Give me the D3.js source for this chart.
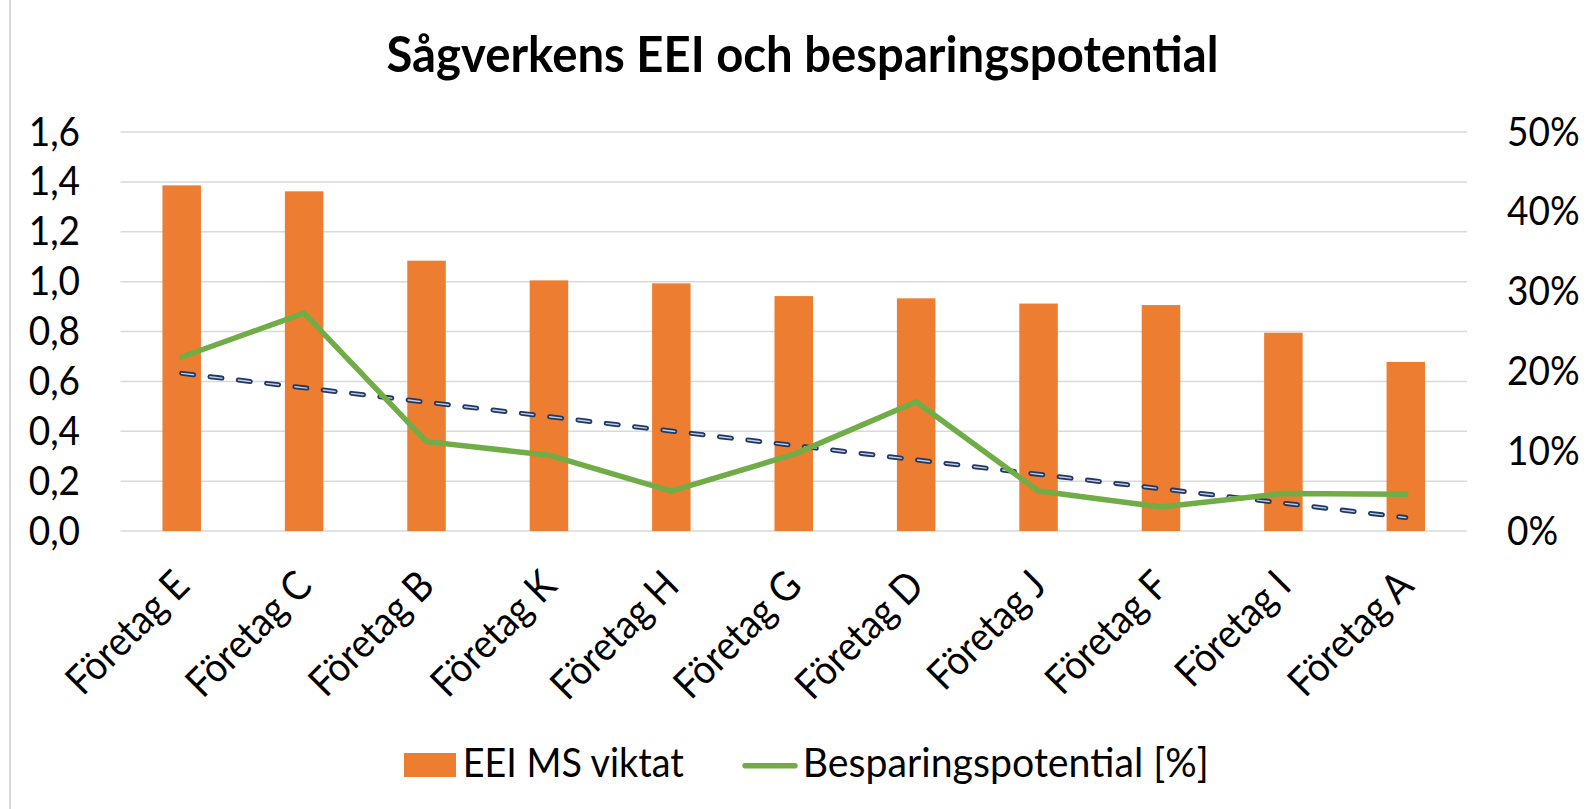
<!DOCTYPE html>
<html>
<head>
<meta charset="utf-8">
<script src="https://cdn.jsdelivr.net/npm/d3@7"></script>
<style>
  body { margin: 0; background: #fff; }
  svg { display: block; }
</style>
</head>
<body>
<svg id="chart" width="1594" height="809"></svg>
<script>
// data
const companies = ['Företag E', 'Företag C', 'Företag B', 'Företag K', 'Företag H', 'Företag G',
  'Företag D', 'Företag J', 'Företag F', 'Företag I', 'Företag A'];
const eeiValues = [1.386, 1.362, 1.084, 1.005, 0.993, 0.942, 0.933, 0.912, 0.906, 0.795, 0.678];
const savingsValues = [0.218, 0.273, 0.112, 0.095, 0.050, 0.096, 0.162, 0.050, 0.030, 0.047, 0.046];
const leftTicks = [0, 0.2, 0.4, 0.6, 0.8, 1.0, 1.2, 1.4, 1.6];
const rightTicks = [0, 0.1, 0.2, 0.3, 0.4, 0.5];
const seriesNames = ['EEI MS viktat', 'Besparingspotential [%]'];
const title = 'Sågverkens EEI och besparingspotential';

const svg = d3.select('#chart');
const FONT = 'Lato, "Open Sans", sans-serif';

/**
 * SIZES
 */
const plotLeft = 120.5;
const plotRight = 1467;
const plotTop = 132;
const plotBottom = 531;

// fit a font size so that a string gets the width it has in the picture
function fitSize(str, width, weight) {
  const t = svg.append('text').attr('font-family', FONT).attr('font-weight', weight)
    .attr('font-size', 100).text(str);
  const w = t.node().getComputedTextLength();
  t.remove();
  return 100 * width / w;
}
// Lato is wider than the original font, so go a bit larger and squeeze where the width matters
const labelSize = fitSize(seriesNames[0], 221, 'normal') * 1.08;
const titleSize = fitSize(title, 832, 'bold') * 1.06;
const squeeze = 0.91;

/**
 * SCALES
 */
const x = d3.scaleBand().domain(companies).range([plotLeft, plotRight]).padding(0);
const yLeft = d3.scaleLinear().domain([0, 1.6]).range([plotBottom, plotTop]);
const yRight = d3.scaleLinear().domain([0, 0.5]).range([plotBottom, plotTop]);
const cx = (d) => x(d) + x.bandwidth() / 2;

const sv = d3.formatLocale({ decimal: ',', thousands: ' ', grouping: [3], currency: ['', ' kr'] });

// chart area border (only the left edge is inside the picture)
svg.append('line')
  .attr('x1', 10).attr('x2', 10).attr('y1', 0).attr('y2', 809)
  .attr('stroke', '#d9d9d9').attr('stroke-width', 2);

/**
 * TITLE
 */
svg.append('text')
  .attr('x', 386.5).attr('y', 72)
  .attr('font-family', FONT).attr('font-weight', 'bold')
  .attr('font-size', titleSize)
  .attr('textLength', 832).attr('lengthAdjust', 'spacingAndGlyphs')
  .attr('fill', '#000')
  .text(title);

/**
 * GRIDLINES
 */
svg.append('g')
  .selectAll('line')
  .data(leftTicks)
  .join('line')
  .attr('x1', plotLeft).attr('x2', plotRight)
  .attr('y1', (d) => yLeft(d)).attr('y2', (d) => yLeft(d))
  .attr('stroke', '#d9d9d9').attr('stroke-width', 1.5);

/**
 * AXES
 */
function styleAxis(g) {
  g.select('.domain').remove();
  g.selectAll('.tick line').remove();
  g.attr('font-family', FONT).attr('font-size', labelSize);
  g.selectAll('text').attr('fill', '#000');
}
function narrow(g) {
  g.selectAll('text').each(function () {
    const w = this.getComputedTextLength();
    d3.select(this).attr('textLength', w * squeeze).attr('lengthAdjust', 'spacingAndGlyphs');
  });
}

svg.append('g')
  .attr('transform', `translate(${plotLeft},0)`)
  .call(d3.axisLeft(yLeft).tickValues(leftTicks).tickSize(0).tickPadding(40.5).tickFormat(sv.format('.1f')))
  .call(styleAxis)
  .call(narrow);

svg.append('g')
  .attr('transform', `translate(${plotRight},0)`)
  .call(d3.axisRight(yRight).tickValues(rightTicks).tickSize(0).tickPadding(40).tickFormat(d3.format('.0%')))
  .call(styleAxis)
  .call(narrow);

const gX = svg.append('g')
  .attr('transform', `translate(0,${plotBottom})`)
  .call(d3.axisBottom(x).tickSize(0))
  .call(styleAxis)
  .call(narrow);

gX.selectAll('.tick text')
  .attr('text-anchor', 'end')
  .attr('dy', 0)
  .attr('y', 0)
  .attr('transform', 'translate(10,57) rotate(-45)');

/**
 * BARS
 */
const barWidth = 38.5;
svg.append('g')
  .selectAll('rect')
  .data(companies)
  .join('rect')
  .attr('x', (d) => cx(d) - barWidth / 2)
  .attr('width', barWidth)
  .attr('y', (d, i) => yLeft(eeiValues[i]))
  .attr('height', (d, i) => yLeft(0) - yLeft(eeiValues[i]))
  .attr('fill', '#ed7d31');

/**
 * LINE + LINEAR TREND (least squares on the savings series)
 */
const pts = companies.map((c, i) => ({ c, i: i + 1, v: savingsValues[i] }));
const n = pts.length;
const mx = d3.mean(pts, (d) => d.i);
const my = d3.mean(pts, (d) => d.v);
const slope = d3.sum(pts, (d) => (d.i - mx) * (d.v - my)) / d3.sum(pts, (d) => (d.i - mx) ** 2);
const trend = [pts[0], pts[n - 1]].map((d) => ({ c: d.c, v: my + slope * (d.i - mx) }));

const line = d3.line()
  .x((d) => cx(d.c))
  .y((d) => yRight(d.v));

svg.append('path')
  .attr('d', line(trend))
  .attr('fill', 'none')
  .attr('stroke', '#1f3864')
  .attr('stroke-width', 5)
  .attr('stroke-linecap', 'round')
  .attr('stroke-dasharray', '12 16.5');

svg.append('path')
  .attr('d', line(trend))
  .attr('fill', 'none')
  .attr('stroke', '#c3cde4')
  .attr('stroke-width', 1.4)
  .attr('stroke-linecap', 'round')
  .attr('stroke-dasharray', '12 16.5');

svg.append('path')
  .attr('d', line(pts))
  .attr('fill', 'none')
  .attr('stroke', '#70ad47')
  .attr('stroke-width', 5.5)
  .attr('stroke-linejoin', 'round')
  .attr('stroke-linecap', 'round');

/**
 * LEGEND
 */
const legend = svg.append('g').attr('font-family', FONT).attr('font-size', labelSize).attr('fill', '#000');
legend.append('rect')
  .attr('x', 404).attr('y', 753).attr('width', 52).attr('height', 24)
  .attr('fill', '#ed7d31');
legend.append('text').attr('x', 462.7).attr('y', 777)
  .attr('textLength', 221).attr('lengthAdjust', 'spacingAndGlyphs')
  .text(seriesNames[0]);
legend.append('line')
  .attr('x1', 745).attr('x2', 795).attr('y1', 765.7).attr('y2', 765.7)
  .attr('stroke', '#70ad47').attr('stroke-width', 5.5).attr('stroke-linecap', 'round');
legend.append('text').attr('x', 802.7).attr('y', 777)
  .attr('textLength', 406).attr('lengthAdjust', 'spacingAndGlyphs')
  .text(seriesNames[1]);
</script>
</body>
</html>
